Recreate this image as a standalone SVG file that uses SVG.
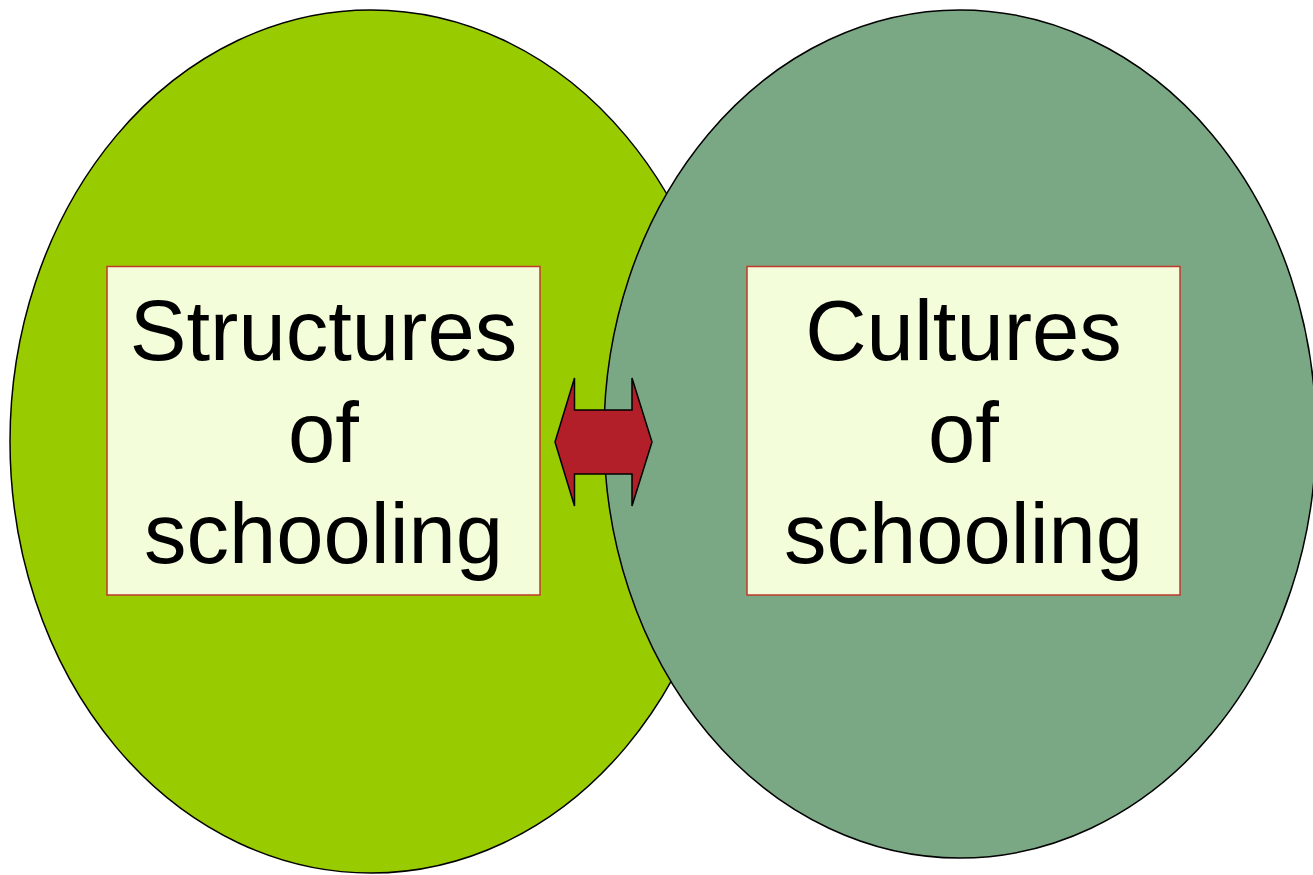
<svg xmlns="http://www.w3.org/2000/svg" width="1313" height="875" viewBox="0 0 1313 875">
<style>
.ell{stroke:#000;stroke-width:1.5}
.box{fill:#F3FDDA;stroke:#C0392B;stroke-width:1.5}
.lbl{font-family:"Liberation Sans",Arial,sans-serif;font-size:85px;fill:#000;text-anchor:middle}
</style>
<rect width="1313" height="875" fill="#fff"/>
<g id="left-ellipse"><ellipse class="ell" cx="371" cy="441.5" rx="361" ry="431.5" fill="#99CC00"/></g>
<g id="right-ellipse"><ellipse class="ell" cx="960" cy="434" rx="356" ry="424" fill="#7BA884"/></g>
<g id="structures">
<rect class="box" x="107" y="266.5" width="433" height="328.5"/>
<text class="lbl" x="323.5" y="360">Structures</text>
<text class="lbl" x="323.5" y="461.5">of</text>
<text class="lbl" x="323.5" y="563">schooling</text>
</g>
<g id="cultures">
<rect class="box" x="747" y="266.5" width="433" height="328.5"/>
<text class="lbl" x="963.5" y="360">Cultures</text>
<text class="lbl" x="963.5" y="461.5">of</text>
<text class="lbl" x="963.5" y="563">schooling</text>
</g>
<g id="connectors">
<path d="M555,442 L574.5,378 L574.5,410 L632,410 L632,378 L652,442 L632,506 L632,474 L574.5,474 L574.5,506 Z" fill="#B21F28" stroke="#000" stroke-width="1.5" stroke-linejoin="miter"/>
</g>
</svg>
